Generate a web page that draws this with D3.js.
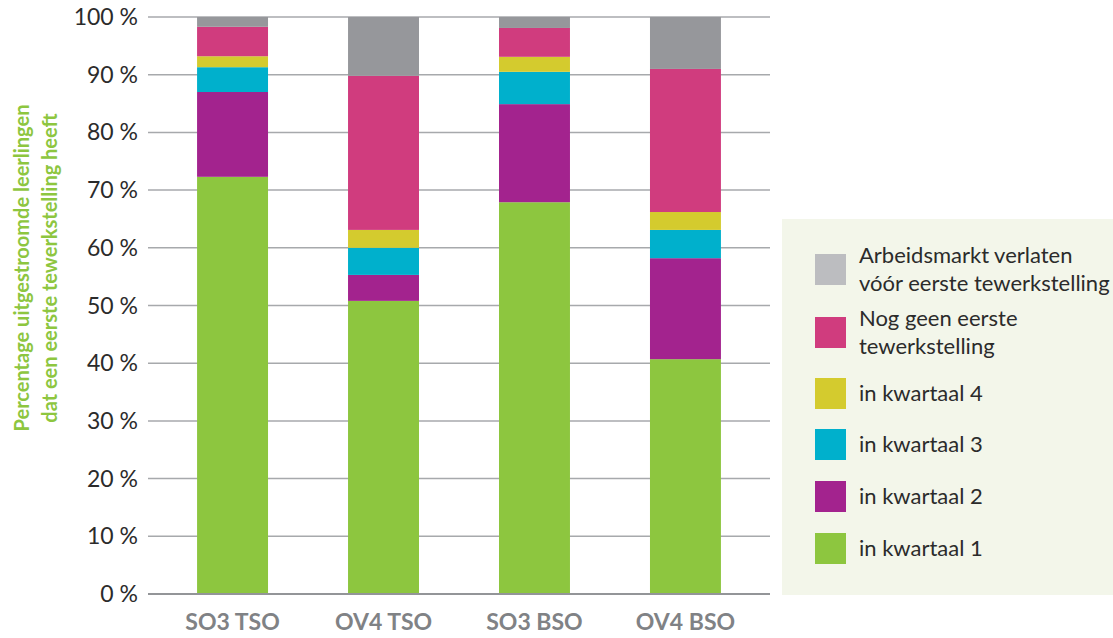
<!DOCTYPE html>
<html>
<head>
<meta charset="utf-8">
<script src="https://cdn.jsdelivr.net/npm/d3@7"></script>
<style>
  body { margin: 0; background: #fff; }
  svg { display: block; font-family: Lato, "Open Sans", sans-serif; }
</style>
</head>
<body>
<svg width="1113" height="638"></svg>
<script>
// categories and series (bottom to top)
var categories = ["SO3 TSO", "OV4 TSO", "SO3 BSO", "OV4 BSO"];
var seriesKeys = ["q1", "q2", "q3", "q4", "nog", "verlaten"];
var q1 = [72.3, 50.8, 67.9, 40.7];
var q2 = [14.7, 4.5, 17.0, 17.5];
var q3 = [4.3, 4.7, 5.6, 4.9];
var q4 = [1.9, 3.1, 2.6, 3.1];
var nog = [5.1, 26.7, 5.0, 24.8];
var verlaten = [1.7, 10.2, 1.9, 9.0];
var yTicks = [0, 10, 20, 30, 40, 50, 60, 70, 80, 90, 100];

var colors = {
  q1: "#8dc63f", q2: "#a3238e", q3: "#00b0cc", q4: "#d4cb2e",
  nog: "#d03c7e", verlaten: "#96979b"
};
var legendColors = {
  q1: "#8dc63f", q2: "#a3238e", q3: "#00b0cc", q4: "#d4cb2e",
  nog: "#d03c7e", verlaten: "#bcbdc0"
};
// legend, top to bottom
var legendItems = [
  { key: "verlaten", lines: ["Arbeidsmarkt verlaten", "vóór eerste tewerkstelling"] },
  { key: "nog", lines: ["Nog geen eerste", "tewerkstelling"] },
  { key: "q4", lines: ["in kwartaal 4"] },
  { key: "q3", lines: ["in kwartaal 3"] },
  { key: "q2", lines: ["in kwartaal 2"] },
  { key: "q1", lines: ["in kwartaal 1"] }
];

var rows = categories.map(function(c, i) {
  return { cat: c, q1: q1[i], q2: q2[i], q3: q3[i], q4: q4[i], nog: nog[i], verlaten: verlaten[i] };
});

var svg = d3.select("svg");

var x = d3.scaleBand().domain(categories).range([148, 770]).paddingInner(0.53).paddingOuter(0.325);
var y = d3.scaleLinear().domain([0, 100]).range([594, 17]);

// gridlines
svg.append("g")
  .selectAll("line")
  .data(yTicks.filter(function(d) { return d > 0; }))
  .enter()
  .append("line")
  .attr("x1", 148).attr("x2", 770)
  .attr("y1", d => y(d)).attr("y2", d => y(d))
  .style("stroke", "#a7a9ac")
  .attr("stroke-width", 1.5);

// tick labels
svg.append("g")
  .selectAll("text")
  .data(yTicks)
  .enter()
  .append("text")
  .attr("x", 138)
  .attr("y", d => y(d))
  .attr("dy", "0.35em")
  .attr("text-anchor", "end")
  .attr("font-size", 23)
  .attr("fill", "#2b2b2b")
  .text(d => d + " %");

// stacked bars
var stacked = d3.stack().keys(seriesKeys)(rows);

svg.append("g")
  .selectAll("g")
  .data(stacked)
  .enter()
  .append("g")
  .attr("fill", d => colors[d.key])
  .selectAll("rect")
  .data(d => d)
  .enter()
  .append("rect")
  .attr("x", d => x(d.data.cat))
  .attr("width", x.bandwidth())
  .attr("y", d => y(Math.min(d[1], 100)))
  .attr("height", d => y(d[0]) - y(Math.min(d[1], 100)));

// baseline
svg.append("line")
  .attr("x1", 148).attr("x2", 770)
  .attr("y1", y(0)).attr("y2", y(0))
  .style("stroke", "#939598")
  .attr("stroke-width", 2);

// category labels
svg.append("g")
  .selectAll("text")
  .data(categories)
  .enter()
  .append("text")
  .attr("x", d => x(d) + x.bandwidth() / 2)
  .attr("y", 622)
  .attr("dy", "0.35em")
  .attr("text-anchor", "middle")
  .attr("font-size", 23)
  .attr("font-weight", "bold")
  .attr("fill", "#808285")
  .text(d => d);

// y axis title
var title = svg.append("text")
  .attr("transform", "translate(36," + 268 + ") rotate(-90)")
  .attr("text-anchor", "middle")
  .attr("font-size", 20)
  .attr("font-weight", "bold")
  .attr("fill", "#8dc63f");
title.append("tspan").attr("x", 0).attr("y", -7).text("Percentage uitgestroomde leerlingen");
title.append("tspan").attr("x", 0).attr("y", 21).text("dat een eerste tewerkstelling heeft");

// legend
var legend = svg.append("g");
legend.append("rect")
  .attr("x", 782).attr("y", 219)
  .attr("width", 340).attr("height", 376)
  .attr("fill", "#f3f6ea");

var legendY = [254, 317, 378, 429, 481, 533];
var items = legend.selectAll("g.item")
  .data(legendItems)
  .enter()
  .append("g")
  .attr("class", "item")
  .attr("transform", (d, i) => "translate(815," + legendY[i] + ")");

items.append("rect")
  .attr("width", 31).attr("height", 31)
  .attr("fill", d => legendColors[d.key]);

items.each(function(d) {
  var g = d3.select(this);
  var n = d.lines.length;
  d.lines.forEach(function(line, j) {
    g.append("text")
      .attr("x", 44)
      .attr("y", 15.5 + (j - (n - 1) / 2) * 28)
      .attr("dy", "0.35em")
      .attr("font-size", 22)
      .attr("fill", "#2b2b2b")
      .text(line);
  });
});
</script>
</body>
</html>
